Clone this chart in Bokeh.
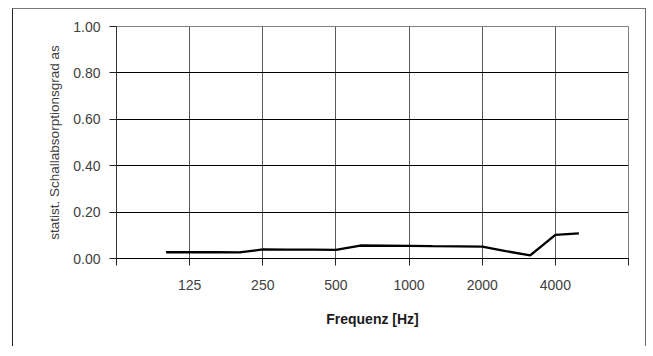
from bokeh.plotting import figure
from bokeh.models import Range1d, FixedTicker, NumeralTickFormatter
from bokeh.embed import file_html
from bokeh.resources import INLINE

# Third-octave band frequencies [Hz] and absorption coefficient
freqs = [100, 125, 160, 200, 250, 315, 400, 500, 630, 800, 1000, 1250, 1600, 2000, 2500, 3150, 4000, 5000]
alpha = [0.027, 0.027, 0.027, 0.026, 0.039, 0.038, 0.038, 0.037, 0.056, 0.055, 0.054, 0.053, 0.052, 0.051, 0.032, 0.013, 0.102, 0.108]

x_ticks = [62.5, 125, 250, 500, 1000, 2000, 4000, 8000]
x_tick_labels = ["", "125", "250", "500", "1000", "2000", "4000", ""]
y_ticks = [0.0, 0.2, 0.4, 0.6, 0.8, 1.0]

FONT = "Liberation Sans"
TXT = "#404040"

p = figure(
    x_axis_type="log",
    x_range=Range1d(62.5, 8000),
    y_range=Range1d(0, 1.0),
    frame_width=512, frame_height=232,
    min_border_left=103, min_border_top=17, min_border_right=17, min_border_bottom=88,
    output_backend="svg", toolbar_location=None,
)
p.margin = (8, 0, 0, 12)
p.styles = {
    "border-top": "1px solid #7a7a7a",
    "border-left": "1px solid #222222",
    "border-right": "1px solid #6a6a6a",
}

p.line(freqs, alpha, line_color="black", line_width=2.3)

# X axis
xa = p.xaxis[0]
xa.ticker = FixedTicker(ticks=x_ticks)
xa.major_label_overrides = {t: l for t, l in zip(x_ticks, x_tick_labels)}
xa.major_tick_out = 7
xa.major_tick_in = 0
xa.minor_tick_out = 0
xa.minor_tick_in = 0
xa.axis_line_color = "black"
xa.major_tick_line_color = "#222222"
xa.major_label_standoff = 14
xa.major_label_text_font = FONT
xa.major_label_text_font_size = "14px"
xa.major_label_text_color = TXT
xa.axis_label = "Frequenz [Hz]"
xa.axis_label_text_font = FONT
xa.axis_label_text_font_style = "bold"
xa.axis_label_text_font_size = "14px"
xa.axis_label_text_color = "#1a1a1a"
xa.axis_label_standoff = 18

# Y axis
ya = p.yaxis[0]
ya.ticker = FixedTicker(ticks=y_ticks)
ya.formatter = NumeralTickFormatter(format="0.00")
ya.major_tick_out = 7
ya.major_tick_in = 0
ya.minor_tick_out = 0
ya.minor_tick_in = 0
ya.axis_line_color = "#333333"
ya.major_tick_line_color = "#222222"
ya.major_label_standoff = 9
ya.major_label_text_font = FONT
ya.major_label_text_font_size = "14px"
ya.major_label_text_color = TXT
ya.axis_label = "statist. Schallabsorptionsgrad as"
ya.axis_label_text_font = FONT
ya.axis_label_text_font_style = "normal"
ya.axis_label_text_font_size = "13.5px"
ya.axis_label_text_color = TXT
ya.axis_label_standoff = 8

# Grid
p.ygrid.grid_line_color = "black"
p.ygrid.grid_line_width = 1
p.xgrid.grid_line_color = "#5a5a5a"
p.xgrid.grid_line_width = 1
p.outline_line_color = "#808080"
p.outline_line_width = 1

open("out.html", "w").write(file_html(p, INLINE))
